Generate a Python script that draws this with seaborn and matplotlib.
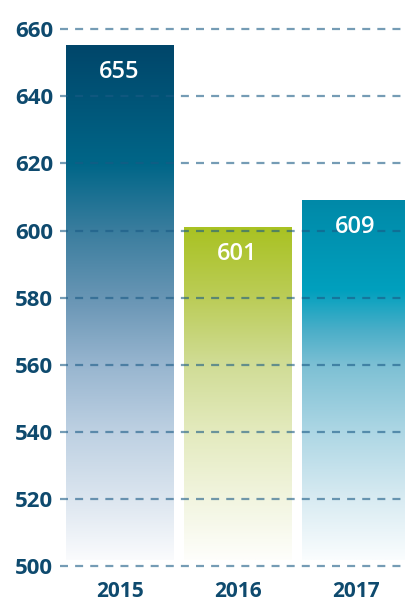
import numpy as np
import pandas as pd
import seaborn as sns
import matplotlib.pyplot as plt
from matplotlib.colors import LinearSegmentedColormap

years = ["2015", "2016", "2017"]
values = [655, 601, 609]

# gradient stops per bar (fraction from top, colour)
stops = [
    [(0.0, "#00466a"), (0.23, "#006688"), (0.36, "#3a7d9e"), (0.5, "#6b97b6"),
     (0.62, "#97b5cf"), (0.75, "#bdd0e2"), (0.88, "#dbe5ef"), (1.0, "#fafbfd")],
    [(0.0, "#a9c222"), (0.22, "#bccd5a"), (0.41, "#d0dc95"), (0.61, "#e3eabd"),
     (0.82, "#f2f5e0"), (1.0, "#fefefb")],
    [(0.0, "#0089a8"), (0.25, "#00a0be"), (0.36, "#4aaec8"), (0.46, "#7dc0d4"),
     (0.64, "#acd6e4"), (0.83, "#d8ebf2"), (1.0, "#fafdfe")],
]

df = pd.DataFrame({"year": years, "value": values})

sns.set_style("white")
plt.rcParams["font.family"] = ["Open Sans", "DejaVu Sans"]

fig = plt.figure(figsize=(4.06, 6.01), dpi=100)
ax = fig.add_axes([0.148, 0.058, 0.852, 0.8935])

sns.barplot(data=df, x="year", y="value", color="white", width=0.907, ax=ax)

for patch, st in zip(ax.patches, stops):
    x0, w = patch.get_x(), patch.get_width()
    top = patch.get_height()
    bottom = 501.8
    patch.set_facecolor("none")
    patch.set_edgecolor("none")
    cmap = LinearSegmentedColormap.from_list("g", st)
    grad = np.linspace(0, 1, 256).reshape(-1, 1)
    ax.imshow(grad, cmap=cmap, aspect="auto", origin="upper",
              extent=[x0, x0 + w, bottom, top], zorder=1, interpolation="bilinear")

ax.set_ylim(500, 660)
ax.set_xlim(-0.504, 2.428)

for i, v in enumerate(values):
    ax.annotate(str(v), (i, v), xytext=(0, -19), textcoords="offset points",
                ha="center", va="center", color="white", fontsize=17,
                fontweight="semibold", zorder=5)

for y in range(500, 661, 20):
    ax.axhline(y, color="#1a5a85", alpha=0.6, lw=1.6, ls=(0, (3.6, 3.2)), zorder=3,
               clip_on=False)

ax.set_yticks(range(500, 661, 20))
ax.tick_params(axis="y", length=0, pad=5, labelsize=16, labelcolor="#0e4a6e")
ax.tick_params(axis="x", length=0, pad=11, labelsize=15, labelcolor="#0e4a6e")
for lab in ax.get_yticklabels() + ax.get_xticklabels():
    lab.set_fontweight("bold")
ax.set_xlabel("")
ax.set_ylabel("")
sns.despine(ax=ax, left=True, bottom=True)

fig.savefig("out.png", dpi=100)
